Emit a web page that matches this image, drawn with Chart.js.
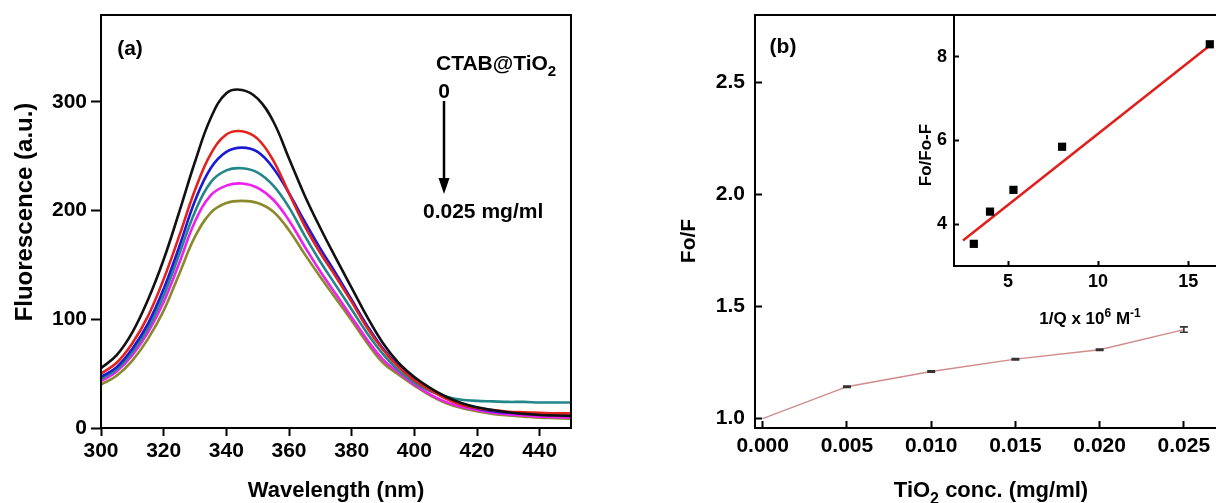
<!DOCTYPE html>
<html>
<head>
<meta charset="utf-8">
<title>CTAB@TiO2 quenching</title>
<script src="https://cdn.jsdelivr.net/npm/chart.js"></script>
<style>
  html, body { margin: 0; padding: 0; background: #fff; overflow: hidden; }
  canvas { position: absolute; top: 0; }
  #spectra { left: 0; }
  #stern { left: 620px; }
  #inset { left: 880px; }
</style>
</head>
<body>
<canvas id="spectra" width="620" height="503"></canvas>
<canvas id="stern" width="620" height="503"></canvas>
<canvas id="inset" width="360" height="340"></canvas>
<script>
const FONT = '"Liberation Sans", Arial, sans-serif';

// (a) emission spectra, one per CTAB@TiO2 dose (mg/ml)
const wavelength = [300, 305, 310, 315, 320, 325, 330, 335, 340, 345, 350, 355, 360, 365, 370, 375,
  380, 385, 390, 395, 400, 405, 410, 415, 420, 425, 430, 435, 440, 445, 450];
const f000 = [55, 67, 88, 118, 155, 199, 245, 285, 308, 311, 303, 282, 248, 214, 184, 156,
  129, 102, 78, 60, 47, 37, 29, 23, 19, 16.5, 14.5, 13, 12, 11.5, 11];
const f005 = [50, 60, 78, 103, 137, 177, 219, 252, 270, 273, 266, 246, 216, 186, 161, 139,
  116, 92, 72, 56, 44, 35, 27, 21.5, 18.5, 16.5, 15, 14.5, 14, 13.5, 13.5];
const f010 = [47, 56, 73, 96, 128, 167, 209, 239, 254, 258, 254, 239, 216, 190, 165, 142,
  118, 94, 73, 57, 45, 35.5, 27.5, 21.5, 18, 15.5, 14, 13.5, 13, 12.5, 12.5];
const f015 = [45, 54, 70, 92, 122, 160, 199, 226, 237, 239, 235, 223, 203, 177, 153, 131,
  109, 87, 68, 53, 42, 34, 29, 26, 25, 24.5, 24, 24, 23.5, 23.5, 23.5];
const f020 = [43, 52, 67, 88, 116, 152, 190, 214, 223, 225, 221, 210, 191, 167, 144, 123,
  102, 81, 63, 51, 40, 31, 24, 19.5, 16.5, 14, 12.5, 11.5, 10.5, 10, 9.5];
const f025 = [40, 48, 62, 82, 108, 142, 176, 198, 207, 209, 207, 199, 182, 160, 139, 119,
  99, 78, 60, 49, 39, 30, 23, 18.5, 15.5, 13, 11.5, 10.5, 9.5, 9, 8.5];
const spectraColors = ['#111111', '#e3221d', '#1a1ad6', '#23878a', '#f01ef0', '#8b8a2a'];
const wavelengthTicks = [300, 320, 340, 360, 380, 400, 420, 440];
const fluorTicks = [0, 100, 200, 300];

// (b) Fo/F against dose, with error
const dose = [0, 0.005, 0.010, 0.015, 0.020, 0.025];
const foF = [1.0, 1.142, 1.21, 1.265, 1.307, 1.397];
const foFErr = [0, 0.003, 0.003, 0.003, 0.003, 0.012];
const doseTicks = [0, 0.005, 0.010, 0.015, 0.020, 0.025];
const foFTicks = [1.0, 1.5, 2.0, 2.5];

// inset: double reciprocal plot and its linear fit
const invQ = [3.1, 4.0, 5.3, 8.0, 16.2];
const foRatio = [3.53, 4.30, 4.82, 5.85, 8.30];
const fitX = [2.5, 16.2];
const fitY = [3.61, 8.27];
const invQTicks = [5, 10, 15];
const ratioTicks = [4, 6, 8];

function drawRich(ctx, item) {
  const size = item.size || 21;
  const fontFor = p => `bold ${p[1] ? Math.round(size * 0.72) : size}px ${FONT}`;
  ctx.save();
  ctx.translate(item.x, item.y);
  if (item.rotate) ctx.rotate(-Math.PI / 2);
  ctx.fillStyle = '#000';
  ctx.textAlign = 'left';
  ctx.textBaseline = 'alphabetic';
  let total = 0;
  item.parts.forEach(p => { ctx.font = fontFor(p); total += ctx.measureText(p[0]).width; });
  let x = item.align === 'left' ? 0 : -total / 2;
  const base = size * 0.36;
  item.parts.forEach(p => {
    ctx.font = fontFor(p);
    const dy = p[1] === 'sub' ? size * 0.3 : p[1] === 'sup' ? -size * 0.42 : 0;
    ctx.fillText(p[0], x, base + dy);
    x += ctx.measureText(p[0]).width;
  });
  ctx.restore();
}

function textLayer(id, items) {
  return { id, afterDraw(chart) { items.forEach(it => drawRich(chart.ctx, it)); } };
}

const framePlugin = {
  id: 'frame',
  afterDraw(chart) {
    const { ctx, chartArea: a } = chart;
    ctx.save();
    ctx.strokeStyle = '#000';
    ctx.lineWidth = 2;
    ctx.strokeRect(a.left, a.top, a.right - a.left, a.bottom - a.top);
    ctx.restore();
  }
};

// arrow showing the direction of increasing dose
const doseArrow = {
  id: 'doseArrow',
  afterDraw(chart) {
    const ctx = chart.ctx;
    ctx.save();
    ctx.strokeStyle = '#000';
    ctx.fillStyle = '#000';
    ctx.lineWidth = 2.5;
    ctx.beginPath();
    ctx.moveTo(444, 101);
    ctx.lineTo(444, 180);
    ctx.stroke();
    ctx.beginPath();
    ctx.moveTo(438.5, 178);
    ctx.lineTo(449.5, 178);
    ctx.lineTo(444, 194);
    ctx.closePath();
    ctx.fill();
    ctx.restore();
  }
};

const errorBars = {
  id: 'errorBars',
  afterDatasetsDraw(chart) {
    const { ctx, scales: { x, y } } = chart;
    ctx.save();
    ctx.strokeStyle = '#333';
    ctx.lineWidth = 1.6;
    dose.forEach((d, i) => {
      if (!foFErr[i]) return;
      const px = x.getPixelForValue(d);
      const lo = y.getPixelForValue(foF[i] - foFErr[i]);
      const hi = y.getPixelForValue(foF[i] + foFErr[i]);
      ctx.beginPath();
      ctx.moveTo(px, lo); ctx.lineTo(px, hi);
      ctx.moveTo(px - 4, lo); ctx.lineTo(px + 4, lo);
      ctx.moveTo(px - 4, hi); ctx.lineTo(px + 4, hi);
      ctx.stroke();
    });
    ctx.restore();
  }
};

function tickGrid(len) {
  return { display: true, drawOnChartArea: false, drawTicks: true, tickLength: len, tickWidth: 2, tickColor: '#000' };
}

function axis(cfg) {
  const { min, max, ticks, size, fontSize, pad, len, vertical, digits } = cfg;
  return {
    type: 'linear',
    min, max,
    afterFit: s => {
      // fixed box sizes, and no extra room reserved for edge labels
      if (vertical) s.width = size; else s.height = size;
      s.paddingTop = s.paddingBottom = s.paddingLeft = s.paddingRight = 0;
    },
    afterBuildTicks: s => { s.ticks = ticks.map(v => ({ value: v })); },
    grid: tickGrid(len),
    border: { display: false },
    title: { display: false },
    ticks: {
      padding: pad,
      color: '#000',
      font: { family: FONT, size: fontSize, weight: 'bold' },
      callback: v => digits === undefined ? String(v) : Number(v).toFixed(digits)
    }
  };
}

const quiet = { legend: { display: false }, tooltip: { enabled: false } };

const spectra = [f000, f005, f010, f015, f020, f025];

new Chart(document.getElementById('spectra'), {
  type: 'line',
  data: {
    datasets: spectra.map((vals, k) => ({
      data: wavelength.map((w, i) => ({ x: w, y: vals[i] })),
      borderColor: spectraColors[k],
      borderWidth: 2.6,
      pointRadius: 0,
      tension: 0.4,
      fill: false
    }))
  },
  options: {
    responsive: false,
    animation: false,
    layout: { padding: { left: 0, top: 15, right: 49, bottom: 0 } },
    plugins: quiet,
    scales: {
      x: axis({ min: 300, max: 450, ticks: wavelengthTicks, size: 75, fontSize: 21, pad: 2.4, len: 8 }),
      y: axis({ min: 0, max: 380, ticks: fluorTicks, size: 101, fontSize: 21, pad: 4, len: 10, vertical: true })
    }
  },
  plugins: [framePlugin, doseArrow, textLayer('spectraText', [
    { parts: [['(a)']], x: 130, y: 47, size: 21 },
    { parts: [['CTAB@TiO'], ['2', 'sub']], x: 436, y: 62, size: 21, align: 'left' },
    { parts: [['0']], x: 444, y: 90, size: 21 },
    { parts: [['0.025 mg/ml']], x: 423, y: 210, size: 21, align: 'left' },
    { parts: [['Fluorescence (a.u.)']], x: 23, y: 212, size: 24, rotate: true },
    { parts: [['Wavelength (nm)']], x: 336, y: 489, size: 22 }
  ])]
});

new Chart(document.getElementById('stern'), {
  type: 'line',
  data: {
    datasets: [{
      data: dose.map((d, i) => ({ x: d, y: foF[i] })),
      borderColor: '#cf8a8a',
      borderWidth: 1.3,
      pointRadius: 0,
      tension: 0,
      fill: false
    }]
  },
  options: {
    responsive: false,
    animation: false,
    layout: { padding: { left: 0, top: 15, right: 14, bottom: 0 } },
    plugins: quiet,
    scales: {
      x: axis({ min: -0.000457, max: 0.0275, ticks: doseTicks, size: 75, fontSize: 21, pad: 12.4, len: -7, digits: 3 }),
      y: axis({ min: 0.958, max: 2.8, ticks: foFTicks, size: 135, fontSize: 21, pad: 17, len: -7, vertical: true, digits: 1 })
    }
  },
  plugins: [framePlugin, errorBars, textLayer('sternText', [
    { parts: [['(b)']], x: 163, y: 45, size: 21 },
    { parts: [['Fo/F']], x: 67, y: 241, size: 21, rotate: true },
    { parts: [['TiO'], ['2', 'sub'], [' conc. (mg/ml)']], x: 371, y: 489, size: 22 }
  ])]
});

new Chart(document.getElementById('inset'), {
  type: 'scatter',
  data: {
    datasets: [{
      data: invQ.map((q, i) => ({ x: q, y: foRatio[i] })),
      pointStyle: 'rect',
      pointRadius: 5.8,
      backgroundColor: '#000',
      borderColor: '#000',
      borderWidth: 0,
      showLine: false
    }, {
      data: fitX.map((q, i) => ({ x: q, y: fitY[i] })),
      borderColor: '#e0201c',
      borderWidth: 2.6,
      pointRadius: 0,
      showLine: true
    }]
  },
  options: {
    responsive: false,
    animation: false,
    layout: { padding: { left: 0, top: 15, right: 14, bottom: 0 } },
    plugins: quiet,
    scales: {
      x: axis({ min: 2, max: 17.1, ticks: invQTicks, size: 74, fontSize: 18, pad: 10.2, len: -5 }),
      y: axis({ min: 3, max: 9, ticks: ratioTicks, size: 74, fontSize: 18, pad: 12, len: -5, vertical: true })
    }
  },
  plugins: [framePlugin, textLayer('insetText', [
    { parts: [['Fo/Fo-F']], x: 45, y: 155, size: 17, rotate: true },
    { parts: [['1/Q x 10'], ['6', 'sup'], [' M'], ['-1', 'sup']], x: 210, y: 318, size: 17 }
  ])]
});
</script>
</body>
</html>
